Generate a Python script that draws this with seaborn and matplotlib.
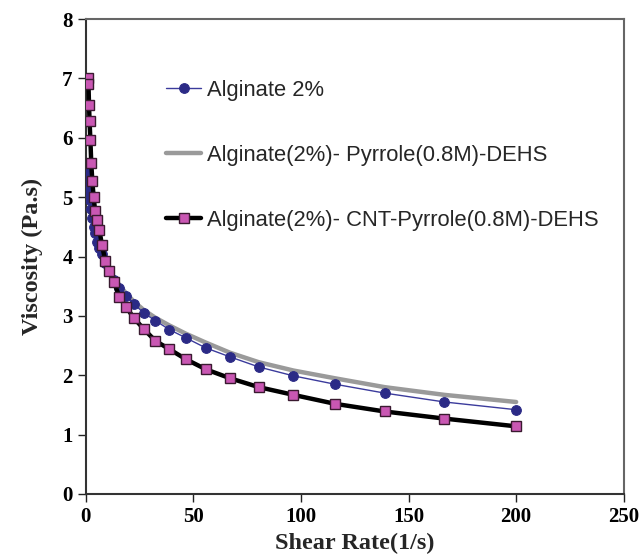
import numpy as np
import pandas as pd
import seaborn as sns
import matplotlib.pyplot as plt

# shear rate (1/s)
shear = [1.0, 1.2, 1.45, 1.7, 2.1, 2.5, 3.0, 3.6, 4.3, 5.2, 6.3, 7.5, 9.0,
         10.8, 13.0, 15.6, 18.7, 22.4, 26.9, 32.3, 38.8, 46.5, 55.8, 67.0,
         80.4, 96.5, 115.7, 138.9, 166.7, 200.0]

# viscosity (Pa.s)
alginate = [5.40, 5.30, 5.15, 5.05, 4.95, 4.80, 4.65, 4.50, 4.40, 4.25, 4.15,
            4.05, 3.90, 3.75, 3.60, 3.47, 3.34, 3.20, 3.05, 2.92, 2.77, 2.63,
            2.46, 2.31, 2.14, 1.99, 1.85, 1.70, 1.55, 1.42]
pyrrole = [5.45, 5.35, 5.20, 5.10, 5.00, 4.85, 4.70, 4.55, 4.45, 4.30, 4.20,
           4.10, 3.95, 3.80, 3.65, 3.52, 3.38, 3.24, 3.10, 2.97, 2.84, 2.70,
           2.55, 2.38, 2.22, 2.08, 1.95, 1.80, 1.67, 1.55]
cnt_pyrrole = [7.01, 6.90, 6.56, 6.28, 5.96, 5.57, 5.27, 5.00, 4.77, 4.61,
               4.44, 4.19, 3.93, 3.75, 3.57, 3.32, 3.15, 2.96, 2.78, 2.58,
               2.44, 2.27, 2.10, 1.95, 1.80, 1.67, 1.52, 1.39, 1.27, 1.14]

labels = ["Alginate 2%",
          "Alginate(2%)- Pyrrole(0.8M)-DEHS",
          "Alginate(2%)- CNT-Pyrrole(0.8M)-DEHS"]

df = pd.DataFrame({"shear": shear, "alg": alginate,
                   "pyr": pyrrole, "cnt": cnt_pyrrole})

sns.set_style("white")
plt.rcParams['font.family'] = ['Liberation Serif', 'DejaVu Serif']

fig = plt.figure(figsize=(6.41, 5.58), dpi=100)
ax = fig.add_axes([0.134, 0.1147, 0.839, 0.851])

sns.lineplot(data=df, x="shear", y="pyr", ax=ax, color="#9a9a9a",
             linewidth=3.2, label=labels[1], zorder=2)
sns.lineplot(data=df, x="shear", y="alg", ax=ax, color="#3b3b9c",
             linewidth=1.0, marker="o", markersize=7,
             markerfacecolor="#2b2a86", markeredgecolor="#2b2a86",
             label=labels[0], zorder=3)
sns.lineplot(data=df, x="shear", y="cnt", ax=ax, color="black",
             linewidth=3.2, marker="s", markersize=6.5,
             markerfacecolor="#c957b3", markeredgecolor="#3a1a30",
             markeredgewidth=1.0, label=labels[2], zorder=4)

ax.set_xlim(0, 250)
ax.set_ylim(0, 8)
ax.set_xticks(np.arange(0, 251, 50))
ax.set_yticks(np.arange(0, 9, 1))
ax.tick_params(axis="both", direction="out", length=6, width=1.0,
               labelsize=15, bottom=True, left=True, top=False, right=False,
               colors="#222222")
for t in ax.get_xticklabels() + ax.get_yticklabels():
    t.set_fontweight("bold")
    t.set_color("black")

ax.set_xlabel("Shear Rate(1/s)", fontsize=17.5, fontweight="bold", labelpad=4)
ax.set_ylabel("Viscosity (Pa.s)", fontsize=17.5, fontweight="bold", labelpad=14)

for side in ["left", "bottom"]:
    ax.spines[side].set_color("#333333")
    ax.spines[side].set_linewidth(1.5)
for side in ["top", "right"]:
    ax.spines[side].set_color("#666666")
    ax.spines[side].set_linewidth(1.5)

handles, labs = ax.get_legend_handles_labels()
order = [labs.index(l) for l in labels]
ax.legend([handles[i] for i in order], [labs[i] for i in order],
          loc="upper left", bbox_to_anchor=(0.149, 0.872), frameon=False,
          borderaxespad=0, borderpad=0, handlelength=1.6, handletextpad=0.28,
          labelspacing=2.0, prop={"family": "Liberation Sans", "size": 15.8})

fig.savefig("out.png", dpi=100)
